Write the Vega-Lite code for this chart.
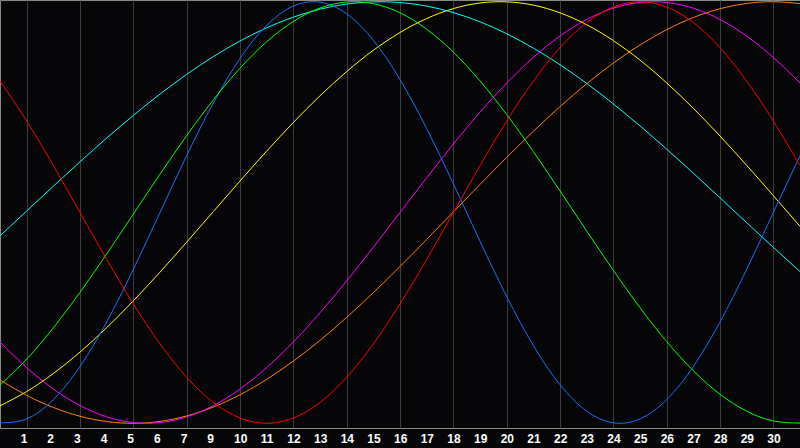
{
  "$schema": "https://vega.github.io/schema/vega-lite/v6.json",
  "width": 800,
  "height": 428,
  "padding": 0,
  "autosize": {"type": "pad"},
  "background": "#060608",
  "config": {
    "view": {"stroke": "#8a8a8a", "strokeWidth": 1, "fill": "#060608"}
  },
  "datasets": {
    "waves": [
      {"u": 0, "red": 0.6235, "green": -0.8190, "blue": -0.9977, "cyan": -0.1106, "yellow": -0.9170, "magenta": -0.6143, "orange": -0.7946},
      {"u": 1, "red": 0.4339, "green": -0.6955, "blue": -0.9791, "cyan": 0.0071, "yellow": -0.8494, "magenta": -0.7357, "orange": -0.8673},
      {"u": 2, "red": 0.2225, "green": -0.5471, "blue": -0.8879, "cyan": 0.1246, "yellow": -0.7638, "magenta": -0.8372, "orange": -0.9249},
      {"u": 3, "red": 0.0, "green": -0.3787, "blue": -0.7308, "cyan": 0.2404, "yellow": -0.6620, "magenta": -0.9158, "orange": -0.9666},
      {"u": 4, "red": -0.2225, "green": -0.1968, "blue": -0.5196, "cyan": 0.3530, "yellow": -0.5464, "magenta": -0.9694, "orange": -0.9918},
      {"u": 5, "red": -0.4339, "green": -0.0076, "blue": -0.2698, "cyan": 0.4605, "yellow": -0.4190, "magenta": -0.9966, "orange": -1.0},
      {"u": 6, "red": -0.6235, "green": 0.1818, "blue": 0.0, "cyan": 0.5618, "yellow": -0.2829, "magenta": -0.9966, "orange": -0.9911},
      {"u": 7, "red": -0.7818, "green": 0.3646, "blue": 0.2698, "cyan": 0.6552, "yellow": -0.1407, "magenta": -0.9694, "orange": -0.9652},
      {"u": 8, "red": -0.9010, "green": 0.5342, "blue": 0.5196, "cyan": 0.7396, "yellow": 0.0044, "magenta": -0.9158, "orange": -0.9229},
      {"u": 9, "red": -0.9749, "green": 0.6845, "blue": 0.7308, "cyan": 0.8136, "yellow": 0.1494, "magenta": -0.8372, "orange": -0.8646},
      {"u": 10, "red": -1.0, "green": 0.8101, "blue": 0.8879, "cyan": 0.8763, "yellow": 0.2912, "magenta": -0.7357, "orange": -0.7916},
      {"u": 11, "red": -0.9749, "green": 0.9064, "blue": 0.9791, "cyan": 0.9268, "yellow": 0.4269, "magenta": -0.6142, "orange": -0.7050},
      {"u": 12, "red": -0.9010, "green": 0.9700, "blue": 0.9977, "cyan": 0.9646, "yellow": 0.5536, "magenta": -0.4759, "orange": -0.6066},
      {"u": 13, "red": -0.7818, "green": 0.9985, "blue": 0.9423, "cyan": 0.9889, "yellow": 0.6686, "magenta": -0.3247, "orange": -0.4977},
      {"u": 14, "red": -0.6235, "green": 0.9909, "blue": 0.8170, "cyan": 0.9995, "yellow": 0.7694, "magenta": -0.1646, "orange": -0.3802},
      {"u": 15, "red": -0.4339, "green": 0.9475, "blue": 0.6311, "cyan": 0.9963, "yellow": 0.8539, "magenta": 0.0, "orange": -0.2563},
      {"u": 16, "red": -0.2225, "green": 0.8698, "blue": 0.3984, "cyan": 0.9792, "yellow": 0.9203, "magenta": 0.1646, "orange": -0.1279},
      {"u": 17, "red": 0.0, "green": 0.7608, "blue": 0.1362, "cyan": 0.9485, "yellow": 0.9673, "magenta": 0.3247, "orange": 0.0026},
      {"u": 18, "red": 0.2225, "green": 0.6242, "blue": -0.1362, "cyan": 0.9047, "yellow": 0.9939, "magenta": 0.4759, "orange": 0.1331},
      {"u": 19, "red": 0.4339, "green": 0.4650, "blue": -0.3984, "cyan": 0.8482, "yellow": 0.9994, "magenta": 0.6142, "orange": 0.2613},
      {"u": 20, "red": 0.6235, "green": 0.2890, "blue": -0.6311, "cyan": 0.7800, "yellow": 0.9838, "magenta": 0.7357, "orange": 0.3851},
      {"u": 21, "red": 0.7818, "green": 0.1026, "blue": -0.8170, "cyan": 0.7010, "yellow": 0.9473, "magenta": 0.8372, "orange": 0.5023},
      {"u": 22, "red": 0.9010, "green": -0.0875, "blue": -0.9423, "cyan": 0.6124, "yellow": 0.8909, "magenta": 0.9158, "orange": 0.6108},
      {"u": 23, "red": 0.9749, "green": -0.2745, "blue": -0.9977, "cyan": 0.5152, "yellow": 0.8154, "magenta": 0.9694, "orange": 0.7090},
      {"u": 24, "red": 1.0, "green": -0.4515, "blue": -0.9791, "cyan": 0.4107, "yellow": 0.7229, "magenta": 0.9966, "orange": 0.7946},
      {"u": 25, "red": 0.9749, "green": -0.6122, "blue": -0.8879, "cyan": 0.3007, "yellow": 0.6150, "magenta": 0.9966, "orange": 0.8673},
      {"u": 26, "red": 0.9010, "green": -0.7506, "blue": -0.7308, "cyan": 0.1864, "yellow": 0.4941, "magenta": 0.9694, "orange": 0.9249},
      {"u": 27, "red": 0.7818, "green": -0.8622, "blue": -0.5196, "cyan": 0.0696, "yellow": 0.3628, "magenta": 0.9158, "orange": 0.9666},
      {"u": 28, "red": 0.6235, "green": -0.9425, "blue": -0.2698, "cyan": -0.0482, "yellow": 0.2238, "magenta": 0.8372, "orange": 0.9918},
      {"u": 29, "red": 0.4339, "green": -0.9887, "blue": 0.0, "cyan": -0.1654, "yellow": 0.0800, "magenta": 0.7357, "orange": 1.0},
      {"u": 30, "red": 0.2225, "green": -0.9992, "blue": 0.2698, "cyan": -0.2801, "yellow": -0.0654, "magenta": 0.6143, "orange": 0.9911}
    ],
    "days": [
      {"u": 1, "day": "1"}, {"u": 2, "day": "2"}, {"u": 3, "day": "3"}, {"u": 4, "day": "4"},
      {"u": 5, "day": "5"}, {"u": 6, "day": "6"}, {"u": 7, "day": "7"}, {"u": 8, "day": "9"},
      {"u": 9, "day": "10"}, {"u": 10, "day": "11"}, {"u": 11, "day": "12"}, {"u": 12, "day": "13"},
      {"u": 13, "day": "14"}, {"u": 14, "day": "15"}, {"u": 15, "day": "16"}, {"u": 16, "day": "17"},
      {"u": 17, "day": "18"}, {"u": 18, "day": "19"}, {"u": 19, "day": "20"}, {"u": 20, "day": "21"},
      {"u": 21, "day": "22"}, {"u": 22, "day": "23"}, {"u": 23, "day": "24"}, {"u": 24, "day": "25"},
      {"u": 25, "day": "26"}, {"u": 26, "day": "27"}, {"u": 27, "day": "28"}, {"u": 28, "day": "29"},
      {"u": 29, "day": "30"}
    ]
  },
  "layer": [
    {
      "data": {"name": "waves"},
      "transform": [
        {"fold": ["orange", "magenta", "yellow", "cyan", "blue", "green", "red"], "as": ["series", "v"]}
      ],
      "mark": {"type": "line", "interpolate": "natural", "strokeWidth": 1, "clip": true},
      "encoding": {
        "x": {
          "field": "u", "type": "quantitative",
          "scale": {"domain": [0, 30], "nice": false, "zero": false},
          "axis": {
            "values": [1,2,3,4,5,6,7,8,9,10,11,12,13,14,15,16,17,18,19,20,21,22,23,24,25,26,27,28,29],
            "title": null,
            "domain": false,
            "ticks": false,
            "labels": false,
            "grid": true,
            "gridColor": "#3c3c3c",
            "gridWidth": 1,
            "gridOpacity": 1,
            "minExtent": 20,
            "maxExtent": 20
          }
        },
        "y": {
          "field": "v", "type": "quantitative",
          "scale": {"domain": [-1.0223, 1.0081], "nice": false, "zero": false},
          "axis": null
        },
        "color": {
          "field": "series", "type": "nominal",
          "scale": {
            "domain": ["red", "green", "blue", "cyan", "yellow", "magenta", "orange"],
            "range": ["#ff0000", "#00ff00", "#1870ff", "#00ffff", "#ffff00", "#ff00ff", "#ff8000"]
          },
          "legend": null
        },
        "order": {"field": "u", "type": "quantitative"}
      }
    },
    {
      "mark": {"type": "rule", "color": "#ffffff", "strokeWidth": 1},
      "encoding": {"x": {"datum": 15, "type": "quantitative"}}
    },
    {
      "mark": {"type": "rule", "color": "#ffffff", "strokeWidth": 1},
      "encoding": {"y": {"datum": -0.007, "type": "quantitative", "axis": null}}
    },
    {
      "data": {"name": "days"},
      "mark": {
        "type": "text", "clip": false, "align": "left", "baseline": "alphabetic", "dx": -6,
        "color": "#ffffff", "font": "Liberation Sans", "fontWeight": "bold", "fontSize": 12
      },
      "encoding": {
        "x": {"field": "u", "type": "quantitative"},
        "y": {"datum": -1.0936, "type": "quantitative", "axis": null},
        "text": {"field": "day", "type": "nominal"}
      }
    }
  ]
}
